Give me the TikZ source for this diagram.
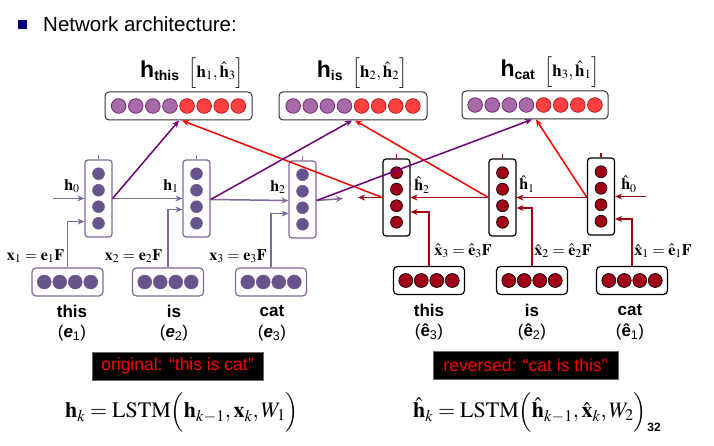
\documentclass[tikz,border=0pt]{standalone}
\usepackage{mathptmx}
\usepackage{fontspec}
\setmainfont{Liberation Serif}
\setsansfont{Liberation Sans}
\usetikzlibrary{arrows.meta}

\definecolor{navy}{RGB}{0,0,128}
\definecolor{fline}{RGB}{128,104,158}
\definecolor{fdotc}{RGB}{104,84,140}
\definecolor{diagp}{RGB}{110,0,120}
\definecolor{opfill}{RGB}{166,106,168}
\definecolor{opline}{RGB}{120,40,120}
\definecolor{orfill}{RGB}{255,64,64}
\definecolor{orline}{RGB}{180,30,30}
\definecolor{bline}{RGB}{160,0,16}
\definecolor{bdotc}{RGB}{160,0,24}

\begin{document}
\begin{tikzpicture}[x=1pt,y=-1pt]
    \tikzstyle{fcell}=[rectangle,draw=fline,fill=white,line width=1.2pt,rounded corners=3pt,minimum width=27pt,minimum height=77pt,inner sep=0pt]
    \tikzstyle{bcell}=[fcell,draw=black]
    \tikzstyle{inbox}=[rectangle,draw=fline,fill=white,line width=1.2pt,rounded corners=4pt,minimum width=71pt,minimum height=28pt,inner sep=0pt]
    \tikzstyle{binbox}=[inbox,draw=black]
    \tikzstyle{outbox}=[rectangle,draw=black!80,fill=white,line width=1pt,rounded corners=4pt,minimum height=28pt,inner sep=0pt]
    \tikzstyle{fdot}=[fill=fdotc,draw=fdotc]
    \tikzstyle{bdot}=[fill=bdotc,draw=black,line width=0.6pt]
    \tikzstyle{odotp}=[fill=opfill,draw=opline,line width=0.8pt]
    \tikzstyle{odotr}=[fill=orfill,draw=orline,line width=0.8pt]
    \tikzstyle{farrow}=[draw=fline,line width=1.5pt,-{Stealth[length=7pt,width=6pt]}]
    \tikzstyle{barrow}=[draw=bline,line width=1.5pt,-{Stealth[length=7pt,width=6pt]}]
    \tikzstyle{parrow}=[draw=diagp,line width=1.5pt,-{Stealth[length=7pt,width=6pt]}]
    \tikzstyle{rarrow}=[draw=red,line width=1.5pt,-{Stealth[length=7pt,width=6pt]}]
    \tikzstyle{mlabel}=[inner sep=0pt,font=\fontsize{16}{17}\selectfont]
    \tikzstyle{word}=[inner sep=0pt,font=\sffamily\bfseries\fontsize{17}{18}\selectfont]
    \tikzstyle{tagbox}=[fill=black,draw=black!60,text=red,minimum height=28pt,inner sep=0pt,font=\sffamily\fontsize{17.5}{18}\selectfont]
    \tikzstyle{eqn}=[inner sep=0pt,font=\fontsize{22}{24}\selectfont]

    \useasboundingbox (0,0) rectangle (714,446);

    % title
    \fill[navy] (18,20) rectangle (27,29);
    \node[anchor=base west,inner sep=0pt,font=\sffamily\fontsize{20.5}{22}\selectfont] (title) at (43,32) {Network architecture:};

    % output boxes
    \node[outbox,minimum width=147pt] (o1) at (178.5,106) {};
    \node[outbox,minimum width=148pt] (o2) at (353,106) {};
    \node[outbox,minimum width=146pt] (o3) at (535,105) {};
    \foreach \o in {o1,o2,o3} {
        \foreach \k in {0,...,3}
            \filldraw[odotp] ([xshift={(\k-3.5)*17.1pt}]\o.center) circle (7.3);
        \foreach \k in {4,...,7}
            \filldraw[odotr] ([xshift={(\k-3.5)*17.1pt}]\o.center) circle (7.3);
    }
    \node[inner sep=0pt] (l1) at (192,73) {\sffamily\bfseries\fontsize{23}{25}\selectfont h\textsubscript{\fontsize{14}{15}\selectfont this}\hspace{9pt}\fontsize{17}{18}\selectfont$\Bigl[\mathbf{h}_1,\hat{\mathbf{h}}_3\Bigr]$};
    \node[inner sep=0pt] (l2) at (362,73) {\sffamily\bfseries\fontsize{23}{25}\selectfont h\textsubscript{\fontsize{14}{15}\selectfont is}\hspace{9pt}\fontsize{17}{18}\selectfont$\Bigl[\mathbf{h}_2,\hat{\mathbf{h}}_2\Bigr]$};
    \node[inner sep=0pt] (l3) at (550,72) {\sffamily\bfseries\fontsize{23}{25}\selectfont h\textsubscript{\fontsize{14}{15}\selectfont cat}\hspace{9pt}\fontsize{17}{18}\selectfont$\Bigl[\mathbf{h}_3,\hat{\mathbf{h}}_1\Bigr]$};

    % forward cells
    \node[fcell] (c1) at (98.5,198.5) {};
    \node[fcell] (c2) at (196.5,198.5) {};
    \node[fcell] (c3) at (302.5,199.5) {};
    % backward cells
    \node[bcell] (b3) at (396.5,197.5) {};
    \node[bcell] (b2) at (502.5,197.5) {};
    \node[bcell] (b1) at (601,196.5) {};
    \foreach \c in {c1,c2,c3} {
        \draw[fline,line width=1.2pt] (\c.north) -- ++(0,-4);
        \foreach \k in {-1.5,-0.5,0.5,1.5}
            \filldraw[fdot] ([yshift={\k*16.5pt}]\c.center) circle (6);
    }
    \foreach \c in {b1,b2,b3} {
        \draw[bline,line width=1.2pt] (\c.north) -- ++(0,-4);
        \foreach \k in {-1.5,-0.5,0.5,1.5}
            \filldraw[bdot] ([yshift={\k*16.5pt}]\c.center) circle (6);
    }

    % input boxes
    \node[inbox] (i1) at (67.5,282) {};
    \node[inbox] (i2) at (168,282) {};
    \node[inbox] (i3) at (271,282) {};
    \node[binbox] (j3) at (429,280.5) {};
    \node[binbox] (j2) at (532,280.5) {};
    \node[binbox] (j1) at (632,280.5) {};
    \foreach \i in {i1,i2,i3}
        \foreach \k in {-1.5,-0.5,0.5,1.5}
            \filldraw[fdot] ([xshift={\k*15.5pt}]\i.center) circle (7);
    \foreach \i in {j1,j2,j3}
        \foreach \k in {-1.5,-0.5,0.5,1.5}
            \filldraw[bdot] ([xshift={\k*15.5pt}]\i.center) circle (7);

    % recurrent connections
    \coordinate (fin) at (53,198.5);
    \coordinate (fout) at (343,198.5);
    \coordinate (bin) at (646,196.5);
    \coordinate (bout) at (358,197.5);
    \draw[farrow] (fin) -- (c1.west);
    \draw[farrow] (c1.east) -- (c2.west);
    \draw[farrow] ([yshift=-1pt]c2.east) -- ([yshift=-1pt]c3.west);
    \draw[farrow] ([yshift=-1pt]c3.east) -- (fout);
    \draw[barrow] (bin) -- (b1.east);
    \draw[barrow] ([yshift=-1pt]b1.west) -- (b2.east);
    \draw[barrow] (b2.west) -- (b3.east);
    \draw[barrow] (b3.west) -- (bout);

    % inputs
    \draw[farrow] (i1.north) |- ([yshift=-23pt]c1.west);
    \draw[farrow] (i2.north) |- ([yshift=-11pt]c2.west);
    \draw[farrow] (i3.north) |- ([yshift=-14pt]c3.west);
    \draw[barrow] (j3.north) |- ([yshift=-14.5pt]b3.east);
    \draw[barrow] (j2.north) |- ([yshift=-10.5pt]b2.east);
    \draw[barrow] (j1.north) |- ([yshift=-22.5pt]b1.east);

    % concatenation
    \draw[parrow] (c1.east) -- ([xshift=0.5pt]o1.south);
    \draw[rarrow] (b3.west) -- ([xshift=3.5pt]o1.south);
    \draw[parrow] ([yshift=-1pt]c2.east) -- ([xshift=-1pt]o2.south);
    \draw[rarrow] (b2.west) -- ([xshift=2pt]o2.south);
    \draw[parrow] ([yshift=-1pt]c3.east) -- ([xshift=-3pt]o3.south);
    \draw[rarrow] ([yshift=-1pt]b1.west) -- ([xshift=1pt]o3.south);

    % state labels
    \node[mlabel] (h0) at (72,186) {$\mathbf{h}_0$};
    \node[mlabel] (h1) at (171,186) {$\mathbf{h}_1$};
    \node[mlabel] (h2) at (278,187) {$\mathbf{h}_2$};
    \node[mlabel] (hb0) at (629,184) {$\hat{\mathbf{h}}_0$};
    \node[mlabel] (hb1) at (527,184) {$\hat{\mathbf{h}}_1$};
    \node[mlabel] (hb2) at (422,185) {$\hat{\mathbf{h}}_2$};
    \node[mlabel] (x1) at (35.5,256) {$\mathbf{x}_1=\mathbf{e}_1\mathbf{F}$};
    \node[mlabel] (x2) at (133.5,256) {$\mathbf{x}_2=\mathbf{e}_2\mathbf{F}$};
    \node[mlabel] (x3) at (238,256) {$\mathbf{x}_3=\mathbf{e}_3\mathbf{F}$};
    \node[mlabel] (xb3) at (463,251) {$\hat{\mathbf{x}}_3=\hat{\mathbf{e}}_3\mathbf{F}$};
    \node[mlabel] (xb2) at (563,251) {$\hat{\mathbf{x}}_2=\hat{\mathbf{e}}_2\mathbf{F}$};
    \node[mlabel] (xb1) at (663,251) {$\hat{\mathbf{x}}_1=\hat{\mathbf{e}}_1\mathbf{F}$};

    % words
    \node[word] (w1) at (72,311) {this};
    \node[word] (w2) at (174,311) {is};
    \node[word] (w3) at (272,311) {cat};
    \node[word,font=\sffamily\fontsize{17}{18}\selectfont] (e1) at (72,333) {(\textbf{\textit{e}}\textsubscript{1})};
    \node[word,font=\sffamily\fontsize{17}{18}\selectfont] (e2) at (174,333) {(\textbf{\textit{e}}\textsubscript{2})};
    \node[word,font=\sffamily\fontsize{17}{18}\selectfont] (e3) at (272,333) {(\textbf{\textit{e}}\textsubscript{3})};
    \node[word] (v3) at (429,310) {this};
    \node[word] (v2) at (532,310) {is};
    \node[word] (v1) at (630,310) {cat};
    \node[word,font=\sffamily\fontsize{17}{18}\selectfont] (eb3) at (429,332) {(\textbf{ê}\textsubscript{3})};
    \node[word,font=\sffamily\fontsize{17}{18}\selectfont] (eb2) at (532,332) {(\textbf{ê}\textsubscript{2})};
    \node[word,font=\sffamily\fontsize{17}{18}\selectfont] (eb1) at (630,332) {(\textbf{ê}\textsubscript{1})};

    % tags
    \node[tagbox,minimum width=171pt] (orig) at (177.5,366) {original: “this is cat”};
    \node[tagbox,minimum width=185pt] (rev) at (525.5,365) {reversed: “cat is this”};

    % equations
    \node[eqn] (eq1) at (182,412) {$\mathbf{h}_k=\mathrm{LSTM}\Bigl(\mathbf{h}_{k-1},\mathbf{x}_k,W_1\Bigr)$};
    \node[eqn] (eq2) at (530,412) {$\hat{\mathbf{h}}_k=\mathrm{LSTM}\Bigl(\hat{\mathbf{h}}_{k-1},\hat{\mathbf{x}}_k,W_2\Bigr)$};
    \node[inner sep=0pt,font=\sffamily\bfseries\fontsize{12}{13}\selectfont] (pg) at (654,427) {32};

\end{tikzpicture}
\end{document}
